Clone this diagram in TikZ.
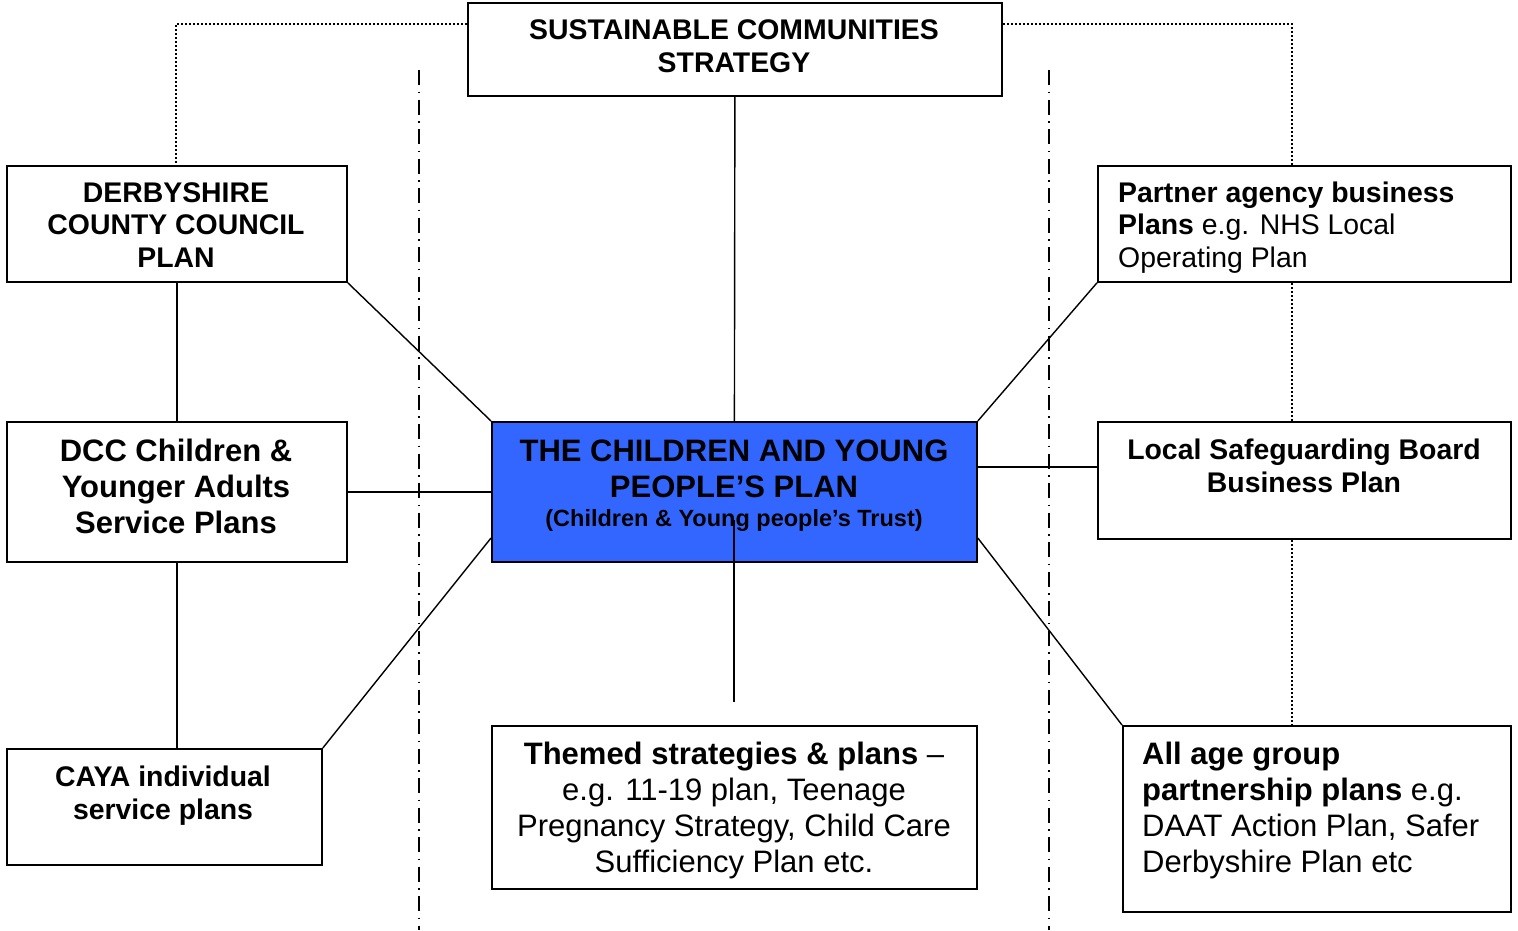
\documentclass[tikz,border=0pt]{standalone}
\usepackage{fontspec}
\setmainfont{Liberation Sans}
\usetikzlibrary{calc}
\definecolor{cypblue}{RGB}{51,102,255}
\begin{document}
\begin{tikzpicture}[x=1pt,y=-1pt,
 box/.style={draw, line width=1.8pt, fill=white, inner sep=0pt, anchor=north west},
 conn/.style={line width=1.4pt},
 dotline/.style={line width=1.6pt, dash pattern=on 2pt off 2pt},
 dashdot/.style={line width=2pt, dash pattern=on 15pt off 6.5pt on 1.5pt off 6.5pt},
 smallb/.style={font=\fontsize{28.4}{32.5}\selectfont\bfseries, inner sep=0pt},
 bigb/.style={font=\fontsize{31}{36}\selectfont\bfseries, inner sep=0pt},
 bigr/.style={font=\fontsize{31}{36}\selectfont, inner sep=0pt},
 ctr/.style={align=center, anchor=base},
 lft/.style={align=left, anchor=base west}
]
\useasboundingbox (0,0) rectangle (1518,930);

% boxes
\node[box, minimum width=534pt, minimum height=93pt] (top) at (467,2) {};
\node[box, minimum width=340pt, minimum height=116pt] (dcp) at (6,165) {};
\node[box, minimum width=340pt, minimum height=140pt] (dcc) at (6,421) {};
\node[box, minimum width=315pt, minimum height=116pt] (caya) at (6,748) {};
\node[box, minimum width=485pt, minimum height=140pt, fill=cypblue] (cyp) at (491,421) {};
\node[box, minimum width=485pt, minimum height=163pt] (themed) at (491,725) {};
\node[box, minimum width=413pt, minimum height=116pt] (partner) at (1097,165) {};
\node[box, minimum width=413pt, minimum height=117pt] (lsb) at (1097,421) {};
\node[box, minimum width=388pt, minimum height=186pt] (allage) at (1122,725) {};

% helper coordinates
\coordinate (tl) at (176,24);
\coordinate (tr) at (1292,24);
\coordinate (h1) at (0,467);
\coordinate (h2) at (0,538);
\coordinate (vt) at (734,520);
\coordinate (vb) at (734,702);
\coordinate (d1t) at (419,70);
\coordinate (d1b) at (419,930);
\coordinate (d2t) at (1049,70);
\coordinate (d2b) at (1049,930);

% dotted links
\draw[dotline] (top.west |- tl) -- (tl) -- (dcp.north -| tl);
\draw[dotline] (top.east |- tr) -- (tr) -- (partner.north -| tr);
\draw[dotline] (partner.south -| tr) -- (lsb.north -| tr);
\draw[dotline] (lsb.south -| tr) -- (allage.north -| tr);

% dash-dot separators
\draw[dashdot] (d1t) -- (d1b);
\draw[dashdot] (d2t) -- (d2b);

% connectors
\draw[conn] (top.south) -- (cyp.north);
\draw[conn] (dcp.south) -- (dcc.north);
\draw[conn] (dcc.south) -- (caya.north -| dcc.south);
\draw[conn] (dcp.south east) -- (cyp.north west);
\draw[conn] (dcc.east) -- (cyp.west);
\draw[conn] (caya.north east) -- (cyp.west |- h2);
\draw[conn] (partner.south west) -- (cyp.north east);
\draw[conn] (cyp.east |- h1) -- (lsb.west |- h1);
\draw[conn] (cyp.east |- h2) -- (allage.north west);

% texts (anchor base = baseline of the last line)
\node[smallb, ctr] (ttop) at (734,72) {SUSTAINABLE COMMUNITIES\\STRATEGY};
\node[smallb, ctr] (tdcp) at (176,267) {DERBYSHIRE\\COUNTY COUNCIL\\PLAN};
\node[bigb, ctr] (tdcc) at (176,533) {DCC Children \&\\Younger Adults\\Service Plans};
\node[smallb, ctr] (tcaya) at (163,819) {CAYA individual\\service plans};
\node[bigb, ctr] (tcyp) at (734,497) {THE CHILDREN AND YOUNG\\PEOPLE’S PLAN};
\node[font=\fontsize{23.5}{27}\selectfont\bfseries, inner sep=0pt, ctr] (tcyp2) at (734,526) {(Children \& Young people’s Trust)};
\node[bigr, ctr] (tthemed) at (734,872) {\textbf{Themed strategies \& plans} –\\e.g. 11-19 plan, Teenage\\Pregnancy Strategy, Child Care\\Sufficiency Plan etc.};
\node[smallb, ctr] (tlsb) at (1304,492) {Local Safeguarding Board\\Business Plan};
\node[font=\fontsize{28.4}{32.5}\selectfont, inner sep=0pt, lft] (tpartner) at (1118,267) {\textbf{Partner agency business}\\\textbf{Plans} e.g. NHS Local\\Operating Plan};
\node[bigr, lft] (tallage) at (1142,872) {\textbf{All age group}\\\textbf{partnership plans} e.g.\\DAAT Action Plan, Safer\\Derbyshire Plan etc};

\draw[conn] (vt) -- (vb);
\end{tikzpicture}
\end{document}
